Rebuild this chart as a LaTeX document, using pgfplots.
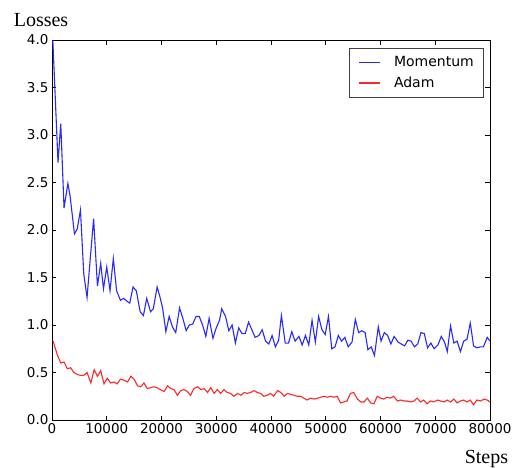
\documentclass[border=0pt]{standalone}
\usepackage{fontspec}
\setmainfont{DejaVu Sans}
\newfontfamily\serifont{Liberation Serif}
\usepackage{pgfplots}
\pgfplotsset{compat=1.18}
\definecolor{momblue}{RGB}{40,40,255}
\definecolor{adamred}{RGB}{255,40,40}

\pgfplotstableread{
step loss
0 4.2
1100 2.71
1600 3.12
2200 2.23
2900 2.49
3300 2.36
4100 1.96
4600 2.01
5200 2.21
5800 1.54
6400 1.29
7600 2.12
8300 1.41
8900 1.65
9400 1.38
10000 1.61
10600 1.36
11200 1.70
11800 1.36
12500 1.26
13100 1.28
13700 1.25
14200 1.23
14800 1.40
15400 1.36
16100 1.14
16700 1.10
17300 1.28
18000 1.14
18500 1.17
19200 1.40
19700 1.30
20200 1.18
20800 0.93
21400 1.09
22000 0.98
22600 0.92
23300 1.18
23900 1.07
24500 0.94
25100 1.00
25700 1.01
26300 1.09
26900 1.09
27500 1.00
28100 0.88
28700 1.07
29400 0.86
30000 0.97
30600 1.05
31000 1.17
31700 1.09
32300 0.94
32900 1.00
33500 0.81
34100 0.97
34700 0.91
35300 0.91
35900 1.03
36500 0.95
37100 0.87
37800 0.89
38400 0.95
39000 0.83
39600 0.80
40200 0.89
40800 0.77
41400 0.84
41900 1.10
42600 0.81
43200 0.81
43800 0.93
44400 0.83
45100 0.88
45700 0.79
46300 0.89
46900 0.79
47500 1.05
48100 0.82
48700 1.09
49300 0.95
49900 0.90
50500 1.09
51100 0.75
51700 0.77
52300 0.89
52900 0.83
53500 0.87
54100 0.77
54800 0.82
55400 1.06
56000 0.92
56600 0.94
57200 0.92
57700 0.74
58300 0.77
58900 0.68
59600 0.98
60100 0.83
60700 0.92
61300 0.89
61900 0.80
62500 0.88
63200 0.82
63800 0.80
64400 0.78
65000 0.84
65600 0.83
66200 0.77
66800 0.80
67400 0.92
68000 0.91
68600 0.76
69200 0.81
69800 0.75
70500 0.79
71100 0.88
71700 0.82
72200 0.72
72800 0.99
73400 0.81
74000 0.83
74600 0.72
75200 0.83
75800 0.85
76400 1.02
77000 0.78
77600 0.76
78200 0.77
78800 0.77
79500 0.87
80000 0.83
}\momentum

\pgfplotstableread{
step loss
200 0.83
1000 0.68
1600 0.60
2200 0.61
2800 0.54
3400 0.55
4000 0.50
4600 0.48
5200 0.47
5800 0.47
6400 0.50
7100 0.39
7700 0.53
8300 0.46
8900 0.52
9500 0.38
10100 0.44
10700 0.39
11300 0.40
11900 0.38
12500 0.43
13100 0.42
13800 0.40
14400 0.46
15000 0.43
15600 0.36
16200 0.35
16800 0.39
17400 0.33
18000 0.34
18600 0.35
19200 0.34
19800 0.32
20500 0.30
21100 0.36
21700 0.33
22300 0.32
22900 0.26
23500 0.31
24100 0.32
24700 0.30
25300 0.26
25900 0.33
26600 0.35
27200 0.32
27800 0.33
28400 0.29
29000 0.34
29600 0.28
30200 0.32
30800 0.28
31400 0.32
32000 0.29
32600 0.28
33200 0.25
33900 0.28
34500 0.26
35100 0.29
35700 0.28
36300 0.29
36900 0.31
37500 0.29
38100 0.28
38700 0.25
39300 0.26
39900 0.28
40500 0.25
41200 0.31
41800 0.29
42400 0.25
43000 0.28
43600 0.27
44200 0.26
44800 0.25
45400 0.25
46000 0.23
46600 0.21
47200 0.23
47900 0.22
48500 0.23
49100 0.24
49700 0.25
50300 0.24
50900 0.25
51500 0.24
52100 0.25
52700 0.18
53300 0.19
53900 0.20
54500 0.28
55100 0.29
55800 0.22
56400 0.19
57000 0.19
57600 0.23
58200 0.18
58800 0.17
59400 0.25
60000 0.23
60600 0.22
61200 0.24
61800 0.23
62400 0.25
63100 0.20
63700 0.21
64300 0.20
64900 0.20
65500 0.19
66100 0.20
66700 0.23
67300 0.19
67900 0.21
68500 0.17
69100 0.20
69700 0.19
70400 0.21
71000 0.20
71600 0.19
72200 0.21
72800 0.19
73400 0.22
74000 0.18
74600 0.20
75200 0.21
75800 0.19
76400 0.21
77000 0.16
77600 0.21
78300 0.20
78900 0.22
79500 0.21
80000 0.19
}\adam

\begin{document}
\begin{tikzpicture}
\useasboundingbox (-52pt,-47pt) rectangle (460pt,420pt);
\begin{axis}[
    at={(0pt,0pt)}, anchor=south west,
    scale only axis,
    width=438pt, height=380pt,
    xmin=0, xmax=80000,
    ymin=0, ymax=4.0,
    xtick={0,10000,...,80000},
    ytick={0,0.5,...,4.0},
    scaled x ticks=false,
    /pgf/number format/assume math mode=true,
    xticklabel style={/pgf/number format/set thousands separator={}, font=\fontsize{13.5}{14}\selectfont},
    yticklabel style={/pgf/number format/.cd, fixed, fixed zerofill, precision=1, /tikz/.cd, font=\fontsize{13.5}{14}\selectfont},
    axis line style={black, line width=0.9pt},
    major tick style={black, line width=0.7pt},
    major tick length=4.5pt,
    xlabel={Steps},
    xlabel style={font=\serifont\fontsize{20}{22}\selectfont, at={(rel axis cs:0.992,0)}, anchor=north, inner sep=0pt, yshift=-30pt},
    ylabel={Losses},
    ylabel style={font=\serifont\fontsize{20}{22}\selectfont, rotate=-90, at={(rel axis cs:-0.025,1)}, anchor=south, inner sep=0pt, yshift=13pt},
    legend style={at={(1,1)}, anchor=north east, xshift=-7pt, yshift=-8pt,
        draw=black!75, font=\fontsize{14}{15}\selectfont,
        inner xsep=7pt, inner ysep=6pt, row sep=5pt, cells={anchor=west}},
    legend image code/.code={\draw[#1, line width=1.1pt] (0pt,0pt) -- (21pt,0pt); \path (-3pt,0pt) (32pt,0pt);},
]
\addplot[color=momblue, line width=1.1pt] table[x=step, y=loss] {\momentum};
\addlegendentry{Momentum}
\addplot[color=adamred, line width=1.1pt] table[x=step, y=loss] {\adam};
\addlegendentry{Adam}
\end{axis}
\end{tikzpicture}
\end{document}
